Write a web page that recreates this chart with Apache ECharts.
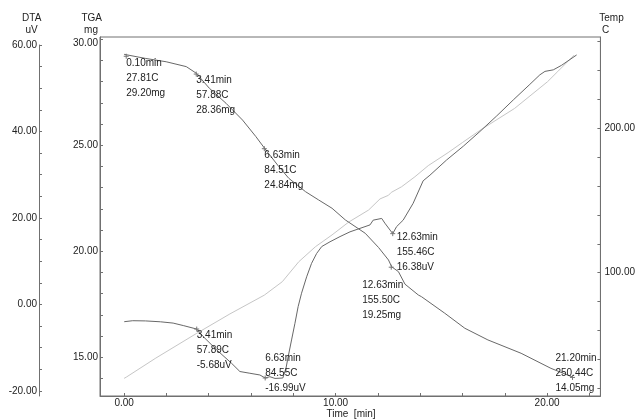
<!DOCTYPE html>
<html><head><meta charset="utf-8">
<script src="https://cdn.jsdelivr.net/npm/echarts@6/dist/echarts.min.js"></script>
<style>html,body{margin:0;padding:0;background:#fff}#c{width:638px;height:420px}</style>
</head><body><div id="c"></div>
<script>
// ---- data ----
const tgaTime = [0.0,1.0,1.99,2.94,3.41,4.03,4.82,5.60,6.23,6.70,7.32,7.79,8.58,9.20,9.83,10.46,11.40,12.03,12.50,12.65,12.97,13.28,13.91,14.06,15.16,16.11,17.20,18.77,20.18,21.20];
const tgaMass = [29.29,29.10,28.94,28.71,28.40,27.69,26.98,26.19,25.41,24.78,23.99,23.44,22.81,22.42,22.03,21.48,20.85,20.18,19.59,19.27,19.04,18.45,17.94,17.86,17.08,16.37,15.82,15.19,14.48,14.07];

const dtaTime = [0.0,0.4,1.0,1.7,2.3,2.8,3.41,3.72,4.35,5.05,5.44,5.91,6.38,6.63,6.85,7.09,7.46,7.61,7.71,7.87,8.03,8.18,8.34,8.58,8.81,9.05,9.29,9.68,10.15,10.62,11.09,11.56,11.71,12.11,12.26,12.63,12.81,13.12,13.59,14.06,14.38,15.16,15.95,16.73,17.52,18.30,19.08,19.55,19.79,20.18,20.57,21.28];
const dtaSignal = [-3.98,-3.75,-3.8,-4.0,-4.3,-4.9,-5.68,-7.44,-10.5,-13.6,-15.5,-15.9,-16.3,-16.99,-16.7,-17.1,-17.0,-14.7,-12.1,-8.2,-4.35,-0.5,2.6,6.4,9.5,11.8,13.4,14.5,15.7,16.8,17.6,18.4,19.5,19.9,18.8,16.38,18.0,19.5,23.4,28.6,29.9,33.4,36.6,40.0,43.6,47.3,50.9,53.1,53.9,54.25,55.3,57.7];

const tempTime = [0.0,0.10,1.5,3.41,5.0,6.63,7.48,8.26,9.05,9.83,10.62,11.56,12.1,12.5,12.63,13.12,13.75,14.38,15.32,16.0,16.89,18.46,20.02,20.5,21.28];
const tempValue = [27.0,27.8,41.0,57.9,71.5,84.5,93.8,107.6,118.0,126.1,135.0,143.3,151.0,153.5,155.5,159.4,166.3,174.0,183.0,190.0,199.0,213.5,232.0,239.0,250.4];

// tick labels
const timeTickLabels = [0, 10, 20];
const dtaTickLabels = [-20, 0, 20, 40, 60];
const tgaTickLabels = [15, 20, 25, 30];
const tempTickLabels = [100, 200];

// annotations
const tgaNoteTime = [0.10, 3.41, 6.63, 12.63, 21.20];
const tgaNoteTemp = [27.81, 57.88, 84.51, 155.50, 250.44];
const tgaNoteMass = [29.20, 28.36, 24.84, 19.25, 14.05];
const dtaNoteTime = [3.41, 6.63, 12.63];
const dtaNoteTemp = [57.89, 84.55, 155.46];
const dtaNoteSignal = [-5.68, -16.99, 16.38];

// ---- styling / layout ----
const tgaNoteOffset = [[0,-1],[0,-1],[0,-1],[-29,11],[-17,-27]];
const dtaNoteOffset = [[0,-1.5],[0,-27.5],[4,-4]];
const FONT = '"Liberation Sans", Arial, sans-serif';
const axisColor = '#707070';
const textColor = '#222';
const curveColor = '#686868';
const tempColor = '#c6c6c6';
const MARK = 5;

function range(a, b, s) { const r = []; for (let v = a; v <= b + 1e-9; v += s) r.push(+v.toFixed(6)); return r; }
function zip(a, b) { return a.map((v, i) => [v, b[i]]); }
const fmt2 = v => (+v).toFixed(2);

const labelStyle = { color: textColor, fontSize: 10, fontFamily: FONT };

function noteData(times, vals, temps, unit, offsets) {
  return times.map((t, i) => ({
    coord: [t, vals[i]],
    label: {
      show: true,
      position: [offsets[i][0] + MARK, offsets[i][1] + MARK],
      align: 'left', verticalAlign: 'top',
      lineHeight: 15,
      color: textColor, fontSize: 10, fontFamily: FONT,
      formatter: t.toFixed(2) + 'min\n' + temps[i].toFixed(2) + 'C\n' + vals[i].toFixed(2) + unit
    }
  }));
}

const markStyle = {
  symbol: 'path://M0,5L10,5M5,0L5,10', symbolSize: MARK, silent: true,
  itemStyle: { color: 'none', borderColor: '#777', borderWidth: 1 }
};

const chart = echarts.init(document.getElementById('c'), null, { renderer: 'canvas' });

const axisLineStyle = { show: true, onZero: false, lineStyle: { color: axisColor, width: 1 } };

const option = {
  animation: false,
  backgroundColor: '#fff',
  grid: [
    { left: 100, right: 35, top: 37, bottom: 24, show: true, borderColor: axisColor, borderWidth: 1, backgroundColor: 'transparent' },
    { left: 100, right: 35, top: 45, bottom: 24, show: false }
  ],
  xAxis: [
    {
      gridIndex: 0, type: 'value', min: -1.14, max: 22.52,
      axisLine: axisLineStyle,
      axisTick: { show: true, inside: true, length: 3, lineStyle: { color: axisColor }, customValues: range(0, 22, 2) },
      axisLabel: { show: true, customValues: timeTickLabels, formatter: fmt2, margin: 2, ...labelStyle },
      splitLine: { show: false }
    },
    { gridIndex: 1, type: 'value', min: -1.14, max: 22.52, show: false, axisLine: { show: false, onZero: false } }
  ],
  yAxis: [
    { // TGA
      gridIndex: 0, type: 'value', position: 'left', offset: 0, min: 13.175, max: 30.108,
      axisLine: axisLineStyle,
      axisTick: { show: true, inside: true, length: 3, lineStyle: { color: axisColor }, customValues: range(14, 30, 1) },
      axisLabel: {
        show: true, customValues: tgaTickLabels, margin: 2, ...labelStyle,
        formatter: v => (v >= 30 ? '{top|' + fmt2(v) + '}' : fmt2(v)),
        rich: { top: { padding: [8, 0, 0, 0], color: textColor, fontSize: 10, fontFamily: FONT } }
      },
      splitLine: { show: false }
    },
    { // Temp
      gridIndex: 0, type: 'value', position: 'right', offset: 0, min: 14.79, max: 262.89,
      axisLine: axisLineStyle,
      axisTick: { show: true, inside: true, length: 3, lineStyle: { color: axisColor }, customValues: range(20, 260, 20) },
      axisLabel: { show: true, customValues: tempTickLabels, formatter: fmt2, margin: 4, ...labelStyle },
      splitLine: { show: false }
    },
    { // DTA
      gridIndex: 1, type: 'value', position: 'left', offset: 61, min: -21.16, max: 60,
      axisLine: axisLineStyle,
      axisTick: { show: true, inside: true, length: 3, lineStyle: { color: axisColor }, customValues: range(-20, 60, 5) },
      axisLabel: { show: true, customValues: dtaTickLabels, formatter: fmt2, margin: 2, ...labelStyle },
      splitLine: { show: false }
    }
  ],
  graphic: [
    { type: 'text', x: 31.7, y: 18, style: { text: 'DTA', fill: textColor, font: '10px ' + FONT, textAlign: 'center', textVerticalAlign: 'middle' } },
    { type: 'text', x: 31.5, y: 30.5, style: { text: 'uV', fill: textColor, font: '10px ' + FONT, textAlign: 'center', textVerticalAlign: 'middle' } },
    { type: 'text', x: 91.7, y: 18, style: { text: 'TGA', fill: textColor, font: '10px ' + FONT, textAlign: 'center', textVerticalAlign: 'middle' } },
    { type: 'text', x: 91, y: 30.5, style: { text: 'mg', fill: textColor, font: '10px ' + FONT, textAlign: 'center', textVerticalAlign: 'middle' } },
    { type: 'text', x: 611.5, y: 18, style: { text: 'Temp', fill: textColor, font: '10px ' + FONT, textAlign: 'center', textVerticalAlign: 'middle' } },
    { type: 'text', x: 605.5, y: 30.5, style: { text: 'C', fill: textColor, font: '10px ' + FONT, textAlign: 'center', textVerticalAlign: 'middle' } },
    { type: 'text', x: 351, y: 414.5, style: { text: 'Time  [min]', fill: textColor, font: '10px ' + FONT, textAlign: 'center', textVerticalAlign: 'middle' } }
  ],
  series: [
    {
      name: 'Temp', type: 'line', xAxisIndex: 0, yAxisIndex: 1,
      data: zip(tempTime, tempValue), showSymbol: false, silent: true, z: 1,
      lineStyle: { color: tempColor, width: 1 }
    },
    {
      name: 'TGA', type: 'line', xAxisIndex: 0, yAxisIndex: 0,
      data: zip(tgaTime, tgaMass), showSymbol: false, silent: true, z: 2,
      lineStyle: { color: curveColor, width: 1 },
      markPoint: { ...markStyle, data: noteData(tgaNoteTime, tgaNoteMass, tgaNoteTemp, 'mg', tgaNoteOffset) }
    },
    {
      name: 'DTA', type: 'line', xAxisIndex: 1, yAxisIndex: 2,
      data: zip(dtaTime, dtaSignal), showSymbol: false, silent: true, z: 2,
      lineStyle: { color: curveColor, width: 1 },
      markPoint: { ...markStyle, data: noteData(dtaNoteTime, dtaNoteSignal, dtaNoteTemp, 'uV', dtaNoteOffset) }
    }
  ]
};
chart.setOption(option);
</script>
</body></html>
